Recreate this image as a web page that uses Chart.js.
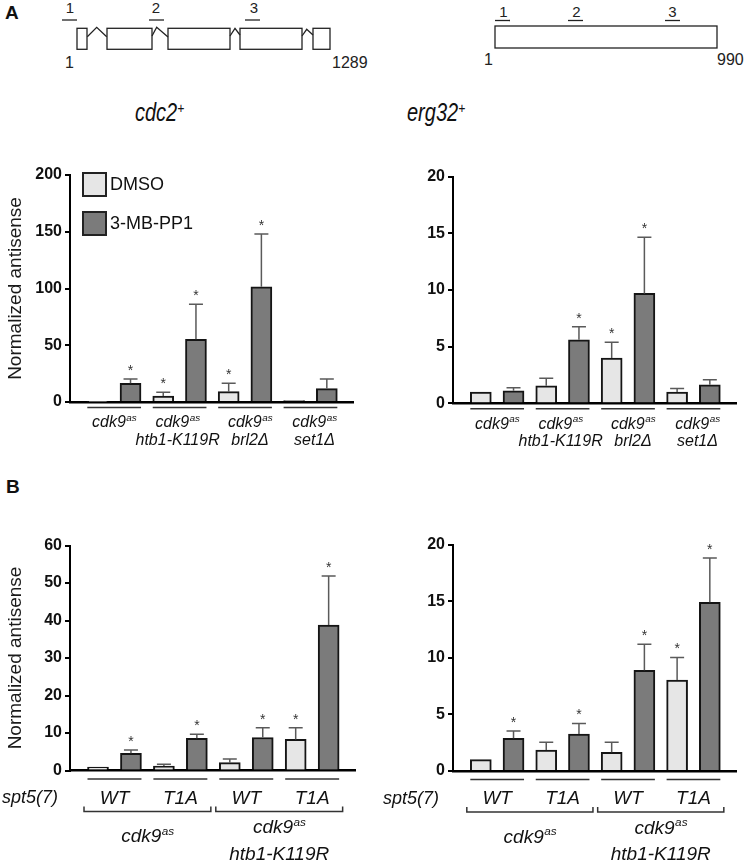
<!DOCTYPE html>
<html><head><meta charset="utf-8">
<script src="https://cdn.jsdelivr.net/npm/chart.js@4.4.1/dist/chart.umd.min.js"></script>
<style>
html,body{margin:0;padding:0;background:#fff;}
body{width:747px;height:860px;position:relative;overflow:hidden;font-family:'Liberation Sans',Arial,sans-serif;color:#111;}
canvas{position:absolute;}
svg{position:absolute;left:0;top:0;}
</style></head><body>
<svg width="747" height="860" font-family="'Liberation Sans', Arial, sans-serif">
  <text x="5" y="18.5" font-size="19" font-weight="bold" fill="#111">A</text>
  <text x="6" y="493" font-size="19" font-weight="bold" fill="#111">B</text>
  <!-- cdc2+ gene model -->
  <g fill="none" stroke="#222" stroke-width="1.3">
    <rect x="77" y="28.3" width="10" height="21"/>
    <rect x="107" y="28.3" width="45" height="21"/>
    <rect x="168" y="28.3" width="62" height="21"/>
    <rect x="240" y="28.3" width="62" height="21"/>
    <rect x="313" y="28.3" width="17" height="21"/>
    <polyline points="87.3,36.7 96.7,27.3 106.7,36.7"/>
    <polyline points="152,36 156.7,27.3 168,37"/>
    <polyline points="230,36 235,28.3 240,35"/>
    <polyline points="302,36 306.7,29.3 313,35"/>
    <line x1="62" y1="20" x2="77" y2="20"/>
    <line x1="149" y1="20" x2="164" y2="20"/>
    <line x1="245" y1="20" x2="260" y2="20"/>
  </g>
  <g font-size="15" text-anchor="middle" fill="#222">
    <text x="70" y="12.5">1</text>
    <text x="156" y="12.5">2</text>
    <text x="254" y="12.5">3</text>
  </g>
  <g font-size="16" fill="#222">
    <text x="65" y="68">1</text>
    <text x="332" y="68">1289</text>
  </g>
  <!-- erg32+ gene model -->
  <g fill="none" stroke="#222" stroke-width="1.3">
    <rect x="495" y="26" width="222" height="22"/>
    <line x1="495" y1="20.5" x2="510" y2="20.5"/>
    <line x1="568" y1="20.5" x2="583" y2="20.5"/>
    <line x1="665" y1="20.5" x2="680" y2="20.5"/>
  </g>
  <g font-size="15" text-anchor="middle" fill="#222">
    <text x="503.5" y="17">1</text>
    <text x="576.5" y="17">2</text>
    <text x="672.5" y="17">3</text>
  </g>
  <g font-size="16" fill="#222">
    <text x="484" y="64.5">1</text>
    <text x="717" y="64.5">990</text>
  </g>
  <text transform="translate(135,121) scale(0.8,1)" font-size="25" font-style="italic" fill="#111">cdc2<tspan font-size="15" dy="-8.5">+</tspan></text>
  <text transform="translate(407,121) scale(0.8,1)" font-size="25" font-style="italic" fill="#111">erg32<tspan font-size="15" dy="-8.5">+</tspan></text>
</svg>
<canvas id="cA1" width="375" height="300" style="left:0;top:150px"></canvas>
<canvas id="cA2" width="367" height="300" style="left:380px;top:150px"></canvas>
<canvas id="cB1" width="375" height="360" style="left:0;top:500px"></canvas>
<canvas id="cB2" width="367" height="360" style="left:380px;top:500px"></canvas>
<script>
// ---------------- data ----------------
const seriesNames = ['DMSO', '3-MB-PP1'];
const yTitle = 'Normalized antisense';

// Panel A categories (strains)
const strainsA = [['cdk9^as'], ['cdk9^as', 'htb1-K119R'], ['cdk9^as', 'brl2Δ'], ['cdk9^as', 'set1Δ']];
// Panel B categories
const spt5Alleles = [['WT'], ['T1A'], ['WT'], ['T1A']];
const strainsB = [['cdk9^as'], ['cdk9^as', 'htb1-K119R']];
const rowLabelB = 'spt5(7)';

// A, cdc2+
const cdc2A_DMSO = [0.5, 5.3, 9.1, 1.2];
const cdc2A_DMSO_err = [0, 3.2, 7.4, 0];
const cdc2A_MB = [16.5, 55.3, 101.5, 11.8];
const cdc2A_MB_err = [3.8, 30.9, 46.5, 8.5];
const cdc2A_DMSO_sig = [0, 1, 1, 0];
const cdc2A_MB_sig = [1, 1, 1, 0];
const cdc2A_ticks = [0, 50, 100, 150, 200];

// A, erg32+
const erg32A_DMSO = [1.0, 1.55, 4.0, 1.0];
const erg32A_DMSO_err = [0, 0.65, 1.38, 0.3];
const erg32A_MB = [1.1, 5.6, 9.7, 1.64];
const erg32A_MB_err = [0.28, 1.16, 4.95, 0.44];
const erg32A_DMSO_sig = [0, 0, 1, 0];
const erg32A_MB_sig = [0, 1, 1, 0];
const erg32A_ticks = [0, 5, 10, 15, 20];

// B, cdc2+
const cdc2B_DMSO = [0.9, 1.2, 2.1, 8.3];
const cdc2B_DMSO_err = [0, 0.5, 1.0, 3.1];
const cdc2B_MB = [4.6, 8.6, 8.8, 38.8];
const cdc2B_MB_err = [0.9, 1.1, 2.6, 13.1];
const cdc2B_DMSO_sig = [0, 0, 0, 1];
const cdc2B_MB_sig = [1, 1, 1, 1];
const cdc2B_ticks = [0, 10, 20, 30, 40, 50, 60];

// B, erg32+
const erg32B_DMSO = [1.0, 1.85, 1.65, 8.03];
const erg32B_DMSO_err = [0, 0.68, 0.88, 2.0];
const erg32B_MB = [2.89, 3.27, 8.9, 14.9];
const erg32B_MB_err = [0.64, 0.93, 2.3, 3.9];
const erg32B_DMSO_sig = [0, 0, 0, 1];
const erg32B_MB_sig = [1, 1, 1, 1];
const erg32B_ticks = [0, 5, 10, 15, 20];

// ---------------- drawing ----------------
const F = "'Liberation Sans', Arial, Helvetica, sans-serif";
Chart.defaults.font.family = F;
const fills = ['#e6e6e6', '#7b7b7b'];

function drawRich(ctx, str, cx, cy, size) {
  const parts = str.split('^');
  const base = parts[0], sup = parts[1] || '';
  const ss = size * 0.62;
  ctx.font = `italic ${size}px ${F}`;
  const wb = ctx.measureText(base).width;
  ctx.font = `italic ${ss}px ${F}`;
  const ws = sup ? ctx.measureText(sup).width : 0;
  const x = cx - (wb + ws) / 2;
  const bl = cy + size * 0.36;
  ctx.textAlign = 'left'; ctx.textBaseline = 'alphabetic'; ctx.fillStyle = '#111';
  ctx.font = `italic ${size}px ${F}`;
  ctx.fillText(base, x, bl);
  if (sup) { ctx.font = `italic ${ss}px ${F}`; ctx.fillText(sup, x + wb + 0.5, bl - size * 0.4); }
}

const annotPlugin = {
  id: 'annot',
  afterDatasetsDraw(chart, args, o) {
    const ctx = chart.ctx, ys = chart.scales.y;
    ctx.save();
    chart.data.datasets.forEach((ds, s) => {
      const meta = chart.getDatasetMeta(s);
      meta.data.forEach((bar, i) => {
        const v = ds.data[i].y, e = o.errors[s][i];
        const yb = ys.getPixelForValue(v), yt = ys.getPixelForValue(v + e);
        if (e > 0) {
          ctx.strokeStyle = '#5a5a5a'; ctx.lineWidth = 1.5;
          ctx.beginPath();
          ctx.moveTo(bar.x, yb); ctx.lineTo(bar.x, yt);
          ctx.moveTo(bar.x - 7, yt); ctx.lineTo(bar.x + 7, yt);
          ctx.stroke();
        }
        if (o.sig[s][i]) {
          ctx.fillStyle = '#333'; ctx.font = `14px ${F}`;
          ctx.textAlign = 'center'; ctx.textBaseline = 'alphabetic';
          ctx.fillText('*', bar.x, yt - 12 + 8);
        }
      });
    });
    ctx.restore();
  },
  afterDraw(chart, args, o) {
    const ctx = chart.ctx, xs = chart.scales.x, ca = chart.chartArea, base = ca.bottom;
    ctx.save();
    ctx.strokeStyle = '#333'; ctx.lineWidth = 1.5;
    o.groups.forEach((lines, g) => {
      const x0 = xs.getPixelForValue(2 * g) - 10.5, x1 = xs.getPixelForValue(2 * g + 1) + 10.5;
      ctx.beginPath(); ctx.moveTo(x0, base + o.ulY); ctx.lineTo(x1, base + o.ulY); ctx.stroke();
      const cx = (x0 + x1) / 2 + (o.dx ? o.dx[g] : 0);
      lines.forEach((t, k) => drawRich(ctx, t, cx, base + o.lineY[k], o.fontSize));
    });
    if (o.brackets) {
      o.brackets.forEach((lines, b) => {
        const x0 = xs.getPixelForValue(4 * b) - 14, x1 = xs.getPixelForValue(4 * b + 3) + 14;
        const y = base + o.brY;
        ctx.strokeStyle = '#333'; ctx.lineWidth = 1.5;
        ctx.beginPath(); ctx.moveTo(x0, y - 5); ctx.lineTo(x0, y); ctx.lineTo(x1, y); ctx.lineTo(x1, y - 5); ctx.stroke();
        const ly = lines.length === 1 ? o.brLine1 : o.brLine2;
        lines.forEach((t, k) => drawRich(ctx, t, (x0 + x1) / 2, base + ly[k], o.brFont));
      });
      ctx.font = `italic 18px ${F}`; ctx.fillStyle = '#111';
      ctx.textAlign = 'left'; ctx.textBaseline = 'alphabetic';
      ctx.fillText(o.rowLabel, o.rowX, base + o.lineY[0] + 18 * 0.36);
    }
    if (o.legend) {
      const L = ca.left + 13, T = ca.top;
      [T - 2, T + 37].forEach((by, s) => {
        ctx.fillStyle = fills[s]; ctx.fillRect(L, by, 23, 23);
        ctx.strokeStyle = '#222'; ctx.lineWidth = 2; ctx.strokeRect(L, by, 23, 23);
        ctx.fillStyle = '#111'; ctx.font = `18px ${F}`; ctx.textAlign = 'left'; ctx.textBaseline = 'middle';
        ctx.fillText(seriesNames[s], L + 27, by + 12.5);
      });
    }
    ctx.restore();
  }
};

function makeChart(id, cfg) {
  const datasets = cfg.values.map((vals, s) => ({
    label: seriesNames[s],
    data: vals.map((v, i) => ({ x: 2 * i + s, y: v })),
    backgroundColor: fills[s], borderColor: '#151515', borderWidth: 2, borderSkipped: 'start',
    grouped: false, barThickness: 21, maxBarThickness: 21
  }));
  return new Chart(document.getElementById(id), {
    type: 'bar',
    data: { datasets },
    options: {
      responsive: false, animation: false, devicePixelRatio: 1, events: [],
      layout: { padding: { top: cfg.padTop, right: cfg.padRight, left: 0, bottom: 0 } },
      scales: {
        x: {
          type: 'linear', min: -0.85, max: 7.8, offset: false, z: 1,
          ticks: { display: false }, grid: { display: false },
          border: { display: true, color: '#000', width: 2.5 },
          afterFit: s => { s.height = cfg.xHeight; }
        },
        y: {
          type: 'linear', min: 0, max: cfg.ticks[cfg.ticks.length - 1],
          afterBuildTicks: s => { s.ticks = cfg.ticks.map(v => ({ value: v })); },
          afterFit: s => { s.width = cfg.yWidth; },
          ticks: { font: { size: 16, weight: 'bold' }, color: '#111', padding: 3 },
          grid: { display: true, drawOnChartArea: false, drawTicks: true, tickLength: 5, color: '#000', lineWidth: 2 },
          border: { display: true, color: '#000', width: 2 },
          title: { display: !!cfg.showTitle, text: yTitle, font: { size: 19 }, color: '#1a1a1a', padding: { top: 4, bottom: 0 } }
        }
      },
      plugins: { legend: { display: false }, tooltip: { enabled: false }, annot: cfg.annot }
    },
    plugins: [annotPlugin]
  });
}

const annotA = (errors, sig, legend) => ({
  errors, sig, legend, groups: strainsA, ulY: 5.5, lineY: [19.7, 37], fontSize: 16, dx: [0, -2, 5, 4]
});
const annotB = (errors, sig, rowX) => ({
  errors, sig, groups: spt5Alleles, ulY: 8.5, lineY: [26.5], fontSize: 19,
  brackets: strainsB, brY: 41, brLine1: [65], brLine2: [56, 82.5], brFont: 19,
  rowLabel: rowLabelB, rowX
});

makeChart('cA1', {
  values: [cdc2A_DMSO, cdc2A_MB], ticks: cdc2A_ticks, yWidth: 70, padTop: 25, padRight: 22, xHeight: 48, showTitle: true,
  annot: annotA([cdc2A_DMSO_err, cdc2A_MB_err], [cdc2A_DMSO_sig, cdc2A_MB_sig], true)
});
makeChart('cA2', {
  values: [erg32A_DMSO, erg32A_MB], ticks: erg32A_ticks, yWidth: 73, padTop: 26.7, padRight: 11, xHeight: 46.7, showTitle: false,
  annot: annotA([erg32A_DMSO_err, erg32A_MB_err], [erg32A_DMSO_sig, erg32A_MB_sig], false)
});
makeChart('cB1', {
  values: [cdc2B_DMSO, cdc2B_MB], ticks: cdc2B_ticks, yWidth: 70, padTop: 45.5, padRight: 20, xHeight: 89.5, showTitle: true,
  annot: annotB([cdc2B_DMSO_err, cdc2B_MB_err], [cdc2B_DMSO_sig, cdc2B_MB_sig], 2)
});
makeChart('cB2', {
  values: [erg32B_DMSO, erg32B_MB], ticks: erg32B_ticks, yWidth: 73, padTop: 44.5, padRight: 11, xHeight: 89, showTitle: false,
  annot: annotB([erg32B_DMSO_err, erg32B_MB_err], [erg32B_DMSO_sig, erg32B_MB_sig], 3)
});
</script>
</body></html>
